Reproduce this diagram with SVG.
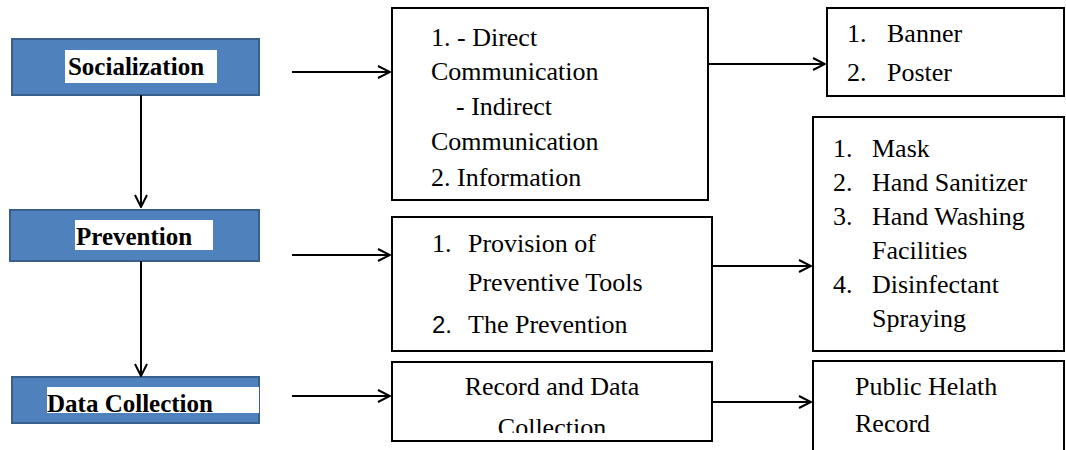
<svg xmlns="http://www.w3.org/2000/svg" width="1066" height="450" viewBox="0 0 1066 450">
<style>
.blue{fill:#4F81BD;stroke:#3A5F8C;stroke-width:2}
.lbl{fill:#fff}
.hd{font-family:'Liberation Serif','DejaVu Serif',serif;font-weight:bold;font-size:25px;fill:#000}
.box{fill:#fff;stroke:#000;stroke-width:2}
.t{font-family:'Liberation Serif','DejaVu Serif',serif;font-size:26px;fill:#000}
.s{font-family:'Liberation Sans',Arial,sans-serif;font-size:24px;fill:#000}
.c{fill:none;stroke:#000;stroke-width:2}
</style>
<defs>
<marker id="ah" viewBox="0 0 14 14" refX="13" refY="7" markerWidth="14" markerHeight="14" markerUnits="userSpaceOnUse" orient="auto">
<polyline points="1,1 13,7 1,13" fill="none" stroke="#000" stroke-width="2"/>
</marker>
<clipPath id="clip4"><rect x="392" y="362" width="320" height="71"/></clipPath>
</defs>
<g id="socialization">
<rect class="blue" x="12" y="39" width="247" height="56"/>
<rect class="lbl" x="65" y="50" width="152" height="33"/>
<text class="hd" x="136" y="75" text-anchor="middle">Socialization</text>
</g>
<g id="prevention">
<rect class="blue" x="10" y="210" width="249" height="51"/>
<rect class="lbl" x="75" y="220" width="138" height="30"/>
<text class="hd" x="76" y="245">Prevention</text>
</g>
<g id="data-collection">
<rect class="blue" x="12" y="377" width="247" height="46"/>
<rect class="lbl" x="47" y="387" width="212" height="26"/>
<text class="hd" x="47" y="412">Data Collection</text>
</g>
<g id="communication">
<rect class="box" x="392" y="8" width="316" height="192"/>
<text class="t" x="431" y="46">1. - Direct</text>
<text class="t" x="431" y="80">Communication</text>
<text class="t" x="456" y="115">- Indirect</text>
<text class="t" x="431" y="150">Communication</text>
<text class="t" x="431" y="186">2. Information</text>
</g>
<g id="prevention-tools">
<rect class="box" x="392" y="217" width="320" height="134"/>
<text class="t" x="432" y="252">1.</text>
<text class="t" x="468" y="252">Provision of</text>
<text class="t" x="468" y="291">Preventive Tools</text>
<text class="s" x="432" y="333">2.</text>
<text class="t" x="468" y="333">The Prevention</text>
</g>
<g id="record">
<rect class="box" x="392" y="362" width="320" height="79"/>
<text class="t" x="552" y="395" text-anchor="middle">Record and Data</text>
<text class="t" x="552" y="436" text-anchor="middle" clip-path="url(#clip4)">Collection</text>
</g>
<g id="media">
<rect class="box" x="827" y="8" width="237" height="88"/>
<text class="t" x="847" y="42">1.</text>
<text class="t" x="887" y="42">Banner</text>
<text class="t" x="847" y="81">2.</text>
<text class="t" x="887" y="81">Poster</text>
</g>
<g id="tools">
<rect class="box" x="813" y="117" width="251" height="234"/>
<text class="t" x="833" y="157">1.</text>
<text class="t" x="872" y="157">Mask</text>
<text class="t" x="833" y="191">2.</text>
<text class="t" x="872" y="191">Hand Sanitizer</text>
<text class="t" x="833" y="225">3.</text>
<text class="t" x="872" y="225">Hand Washing</text>
<text class="t" x="872" y="259">Facilities</text>
<text class="t" x="833" y="293">4.</text>
<text class="t" x="872" y="293">Disinfectant</text>
<text class="t" x="872" y="327">Spraying</text>
</g>
<g id="health-record">
<path class="c" d="M813,452 V361 H1064 V452"/>
<text class="t" x="855" y="395">Public Helath</text>
<text class="t" x="855" y="432">Record</text>
</g>
<g id="connectors">
<line class="c" x1="141" y1="95" x2="141" y2="207" marker-end="url(#ah)"/>
<line class="c" x1="141" y1="261" x2="141" y2="376" marker-end="url(#ah)"/>
<line class="c" x1="292" y1="72" x2="390" y2="72" marker-end="url(#ah)"/>
<line class="c" x1="292" y1="255" x2="390" y2="255" marker-end="url(#ah)"/>
<line class="c" x1="292" y1="396" x2="390" y2="396" marker-end="url(#ah)"/>
<line class="c" x1="708" y1="64" x2="825" y2="64" marker-end="url(#ah)"/>
<line class="c" x1="712" y1="266" x2="811" y2="266" marker-end="url(#ah)"/>
<line class="c" x1="712" y1="402" x2="811" y2="402" marker-end="url(#ah)"/>
</g>
</svg>
